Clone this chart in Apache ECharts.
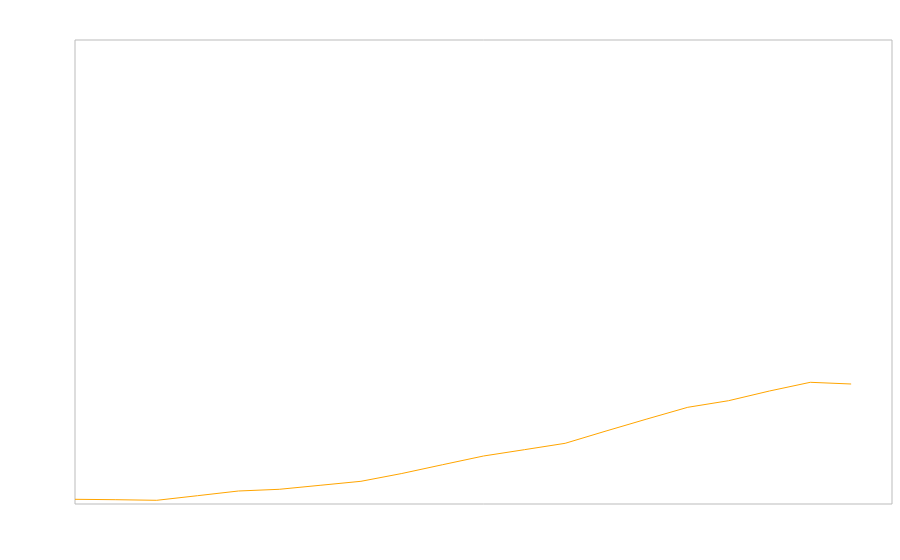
<!DOCTYPE html>
<html>
<head>
<meta charset="utf-8">
<script src="https://cdn.jsdelivr.net/npm/echarts@6/dist/echarts.min.js"></script>
<style>html,body{margin:0;padding:0;background:#fff}#c{width:900px;height:560px}</style>
</head>
<body>
<div id="c"></div>
<script>
const categories = ["1","2","3","4","5","6","7","8","9","10","11","12","13","14","15","16","17","18","19","20","21"];
const values = [4.7, 4.3, 3.7, 8.3, 13, 14.7, 18.7, 22.7, 30.5, 39.3, 48, 54.3, 60.7, 73, 85, 96.7, 103.3, 113, 121.7, 120, null];
const yMin = 0;
const yMax = 464;

const chart = echarts.init(document.getElementById('c'), null, {renderer: 'canvas'});
chart.setOption({
  animation: false,
  backgroundColor: '#ffffff',
  grid: {left: 75, top: 40, right: 8, bottom: 56, show: true, borderColor: '#bbbbbb', borderWidth: 1, backgroundColor: 'transparent'},
  xAxis: {
    type: 'category', data: categories, boundaryGap: false,
    axisLine: {show: false}, axisTick: {show: false}, axisLabel: {show: false}, splitLine: {show: false}
  },
  yAxis: {
    type: 'value', min: yMin, max: yMax,
    axisLine: {show: false}, axisTick: {show: false}, axisLabel: {show: false}, splitLine: {show: false}
  },
  series: [{
    type: 'line', data: values, showSymbol: false, symbol: 'none',
    lineStyle: {color: '#ffa500', width: 1}, itemStyle: {color: '#ffa500'}
  }]
});
</script>
</body>
</html>
